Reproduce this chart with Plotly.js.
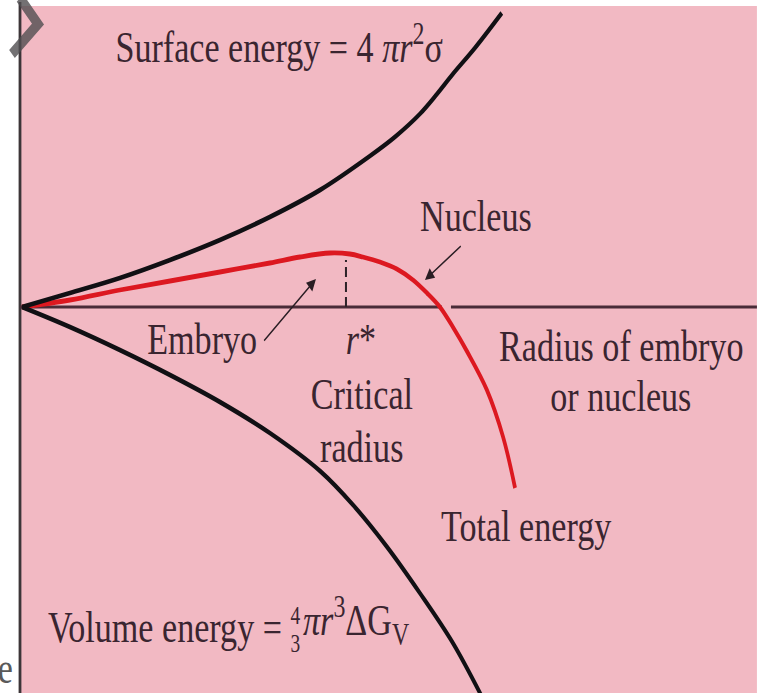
<!DOCTYPE html>
<html>
<head>
<meta charset="utf-8">
<script src="https://cdn.plot.ly/plotly-3.0.1.min.js"></script>
<style>
  html, body { margin: 0; padding: 0; overflow: hidden; background: #ffffff; }
  /* The figure is typeset with a condensed serif face: lay it out wider, then squeeze horizontally. */
  #chart { width: 987px; height: 693px; transform: scaleX(0.775); transform-origin: 0 0; }
</style>
</head>
<body>
<div id="chart"></div>
<script>
// Radius (arbitrary units, critical radius r* = 1) and free-energy change (arbitrary units)
const surfaceR = [0, 0.148, 0.302, 0.457, 0.611, 0.765, 0.920, 1.074, 1.151, 1.228, 1.281, 1.330, 1.398, 1.481];
const surfaceE = [0, 0.14, 0.29, 0.47, 0.67, 0.90, 1.17, 1.51, 1.70, 1.93, 2.13, 2.33, 2.59, 2.94];

const volumeR = [0, 0.148, 0.302, 0.457, 0.611, 0.765, 0.920, 1.022, 1.127, 1.228, 1.330, 1.420];
const volumeE = [0, -0.20, -0.43, -0.68, -0.95, -1.26, -1.64, -1.98, -2.40, -2.86, -3.36, -3.90];

const totalR = [0, 0.148, 0.302, 0.457, 0.611, 0.765, 0.858, 0.951, 1.012, 1.052, 1.105, 1.157, 1.207,
                1.250, 1.290, 1.330, 1.373, 1.435, 1.485, 1.522];
const totalE = [0, 0.07, 0.17, 0.26, 0.35, 0.44, 0.50, 0.54, 0.53, 0.50, 0.45, 0.38, 0.27,
                0.14, 0, -0.20, -0.44, -0.83, -1.30, -1.81];

const rStar = 1.0;        // critical radius
const dGStar = 0.47;      // height of the marker line at r*

const W = 765, H = 693;   // final on-screen size
const px = X => X / W;          // horizontal position -> paper fraction
const py = Y => 1 - Y / H;      // vertical position -> paper fraction

const ink = '#3a2530';
const font = (size, color) => ({ family: '"Liberation Serif", "Times New Roman", serif', size: size, color: color || ink });

const curve = (color) => ({ color: color, width: 4.8, shape: 'spline', smoothing: 1 });

const data = [
  { x: totalR, y: totalE, type: 'scatter', mode: 'lines', name: 'Total energy', line: curve('#dc1820') },
  { x: surfaceR, y: surfaceE, type: 'scatter', mode: 'lines', name: 'Surface energy', line: curve('#111014') },
  { x: volumeR, y: volumeE, type: 'scatter', mode: 'lines', name: 'Volume energy', line: curve('#111014') }
];

function label(text, X, Ybottom, size, anchor) {
  return { text: text, xref: 'paper', yref: 'paper', x: px(X), y: py(Ybottom),
           xanchor: anchor || 'center', yanchor: 'bottom', showarrow: false,
           font: font(size), borderpad: 0 };
}

function arrow(xHead, yHead, xTail, yTail) {
  return { text: '', x: xHead, y: yHead, ax: xTail, ay: yTail,
           xref: 'x', yref: 'y', axref: 'x', ayref: 'y', showarrow: true,
           arrowhead: 2, arrowsize: 1.4, arrowwidth: 1.7, arrowcolor: '#2a1e24' };
}

const layout = {
  width: 987, height: H,
  margin: { l: 0, r: 0, t: 0, b: 0, pad: 0 },
  paper_bgcolor: '#ffffff', plot_bgcolor: 'rgba(0,0,0,0)',
  showlegend: false,
  xaxis: { range: [-22 / 324, 743 / 324], visible: false, fixedrange: true },
  yaxis: { range: [(307 - 693) / 100, 307 / 100], visible: false, fixedrange: true },
  shapes: [
    // tinted page panel
    { type: 'rect', xref: 'paper', yref: 'paper', x0: px(20), x1: px(757), y0: 0, y1: py(6),
      fillcolor: '#f2b9c3', line: { width: 0 }, layer: 'below' },
    // panel left rule
    { type: 'line', xref: 'paper', yref: 'paper', x0: px(20), x1: px(20), y0: 0, y1: py(2),
      line: { color: '#3c3538', width: 3.6 }, layer: 'below' },
    // stray mark at the page corner
    { type: 'path', xref: 'paper', yref: 'paper',
      path: `M ${px(20)},${py(-2)} L ${px(38)},${py(24)} L ${px(12)},${py(54)}`,
      line: { color: 'rgba(80,78,80,0.8)', width: 11 } },
    // radius axis (broken just after the total-energy crossing)
    { type: 'line', xref: 'x', yref: 'y', x0: -2 / 324, x1: 420 / 324, y0: 0, y1: 0,
      line: { color: '#4a2c38', width: 3 }, layer: 'below' },
    { type: 'line', xref: 'x', yref: 'y', x0: 429 / 324, x1: 735 / 324, y0: 0, y1: 0,
      line: { color: '#4a2c38', width: 3 }, layer: 'below' },
    // critical radius marker
    { type: 'line', xref: 'x', yref: 'y', x0: rStar, x1: rStar, y0: 0, y1: dGStar,
      line: { color: '#2e2228', width: 2.6, dash: '10px,5px' } }
  ],
  annotations: [
    label('Surface energy = 4 <i>πr</i><sup>2</sup>σ', 115, 73, 44, 'left'),
    label('Nucleus', 476, 242, 44),
    label('Embryo', 202, 365, 44),
    label('<i>r</i>*', 361, 365, 44),
    label('Critical', 362, 420, 44),
    label('radius', 362, 473, 44),
    label('Radius of embryo', 621, 372, 44),
    label('or nucleus', 621, 422, 44),
    label('Total energy', 526, 552, 44),
    label('Volume energy =', 47, 653, 44, 'left'),
    label('4', 296, 630, 25),
    label('3', 296, 658, 25),
    label('<i>πr</i><sup>3</sup>ΔG<sub>V</sub>', 302, 653, 44, 'left'),
    Object.assign(label('e', 14, 694, 44, 'right'), { font: font(44, '#5a5a5a') }),
    arrow(294 / 324, 0.28, 241 / 324, -0.35),
    arrow(403 / 324, 0.27, 440 / 324, 0.62)
  ]
};

Plotly.newPlot('chart', data, layout, { staticPlot: true, displayModeBar: false });
</script>
</body>
</html>
